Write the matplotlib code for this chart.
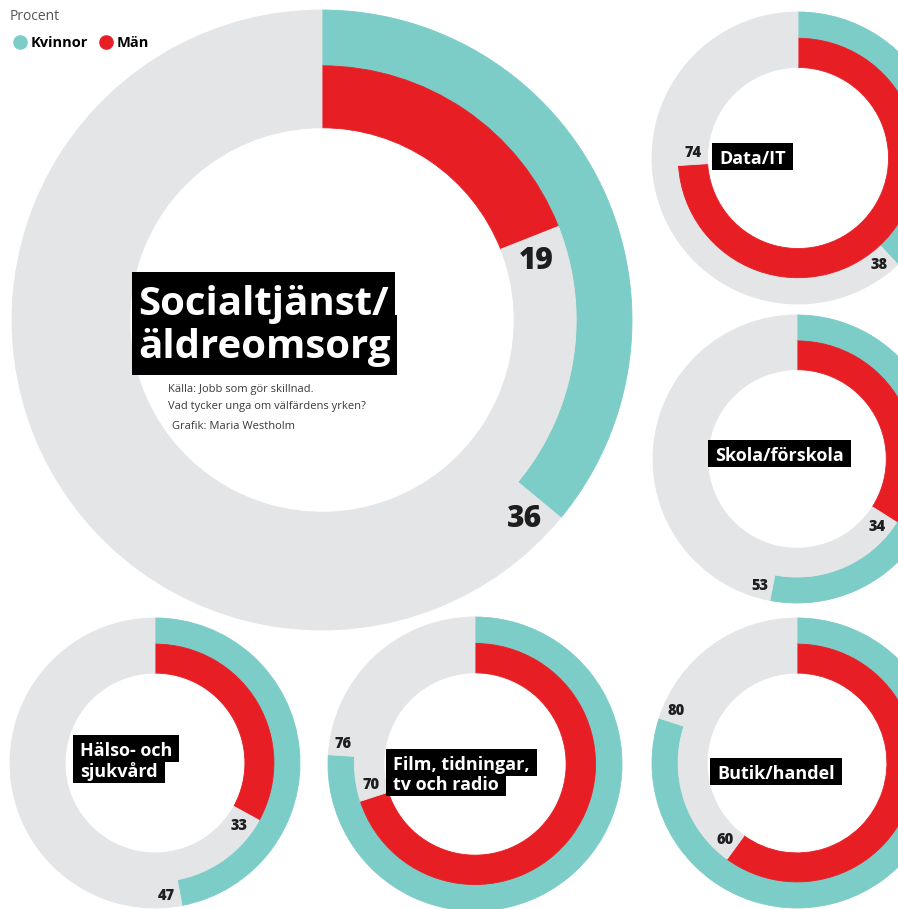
import matplotlib
matplotlib.use("Agg")
import matplotlib.pyplot as plt
from matplotlib.patches import Rectangle
from matplotlib.lines import Line2D
import numpy as np

# ---------------- data ----------------
categories = ["Socialtjänst/\näldreomsorg", "Data/IT", "Skola/förskola",
              "Hälso- och\nsjukvård", "Film, tidningar,\ntv och radio", "Butik/handel"]
kvinnor = [36, 38, 53, 47, 76, 80]
man = [19, 74, 34, 33, 70, 60]
series_names = ["Kvinnor", "Män"]
unit_label = "Procent"
source_lines = ["Källa: Jobb som gör skillnad.",
                "Vad tycker unga om välfärdens yrken?",
                "Grafik: Maria Westholm"]

# ---------------- style / layout ----------------
W, H = 898, 909
DPI = 100
TEAL = "#7CCCC7"
RED = "#E81E25"
GRAY = "#E4E5E7"
INK = "#1E1E1E"
FONT = ["Open Sans", "DejaVu Sans"]
plt.rcParams["font.family"] = FONT

# donut centres (pixel, y downward) and outer radii
centers = [(322, 320), (798, 158), (797, 459), (155, 763), (475, 764), (797, 763)]
radii = [310, 146, 144, 145, 147, 145]
MID, INNER = 0.82, 0.62
# category label: left x, first baseline, font size, line spacing, pads
label_pos = [(138, 315), (719, 164), (715, 461), (80, 756), (393, 770), (717, 779)]
label_size = [29, 13, 13, 13, 13, 13]
line_gap = [43, 21, 21, 21, 20, 21]
label_pads = [(6, 13, 8)] + [(7, 7, 2)] * 5
num_size = [21.5, 10.5, 10.5, 10.5, 10.5, 10.5]
HEAVY = 800


def Y(py):
    return H - py


fig = plt.figure(figsize=(W / DPI, H / DPI), dpi=DPI)
ax = fig.add_axes([0, 0, 1, 1])

boxed = []
for i, cat in enumerate(categories):
    cx, cy = centers[i]
    R = radii[i]
    rm, ri = R * MID, R * INNER
    outer, _ = ax.pie([kvinnor[i], 100 - kvinnor[i]], radius=R, center=(cx, Y(cy)),
                      startangle=90, counterclock=False, colors=[TEAL, GRAY],
                      wedgeprops=dict(width=R - rm, linewidth=0))
    inner, _ = ax.pie([man[i], 100 - man[i]], radius=rm, center=(cx, Y(cy)),
                      startangle=90, counterclock=False, colors=[RED, GRAY],
                      wedgeprops=dict(width=rm - ri, linewidth=0))
    for w in list(outer) + list(inner):
        w.set_edgecolor(w.get_facecolor())
        w.set_linewidth(0.6)
        w.set_zorder(1 + i * 0.01)

    # value labels just past the end of each arc
    fs = num_size[i]
    fs_px = fs / 0.72
    for val, rl in [(kvinnor[i], (R + rm) / 2), (man[i], (rm + ri) / 2)]:
        gap = 0.57 * fs_px + 5
        th = np.deg2rad(val / 100 * 360) + gap / rl
        x = cx + rl * np.sin(th)
        y = Y(cy) + rl * np.cos(th) - 0.36 * fs_px
        ax.text(x, y, str(val), ha="center", va="baseline", fontsize=fs,
                fontweight=HEAVY, color=INK, zorder=4)

    # category label, white on black
    lx, ly = label_pos[i]
    for j, line in enumerate(cat.split("\n")):
        t = ax.text(lx, Y(ly + j * line_gap[i]), line, ha="left", va="baseline",
                    fontsize=label_size[i], fontweight="bold", color="white", zorder=5)
        boxed.append((t, label_pads[i]))

# unit + legend
ax.text(10, Y(20), unit_label, fontsize=10, color="#555555", va="baseline")
handles = [Line2D([], [], marker="o", ls="", color=TEAL, markersize=9.5, label=series_names[0]),
           Line2D([], [], marker="o", ls="", color=RED, markersize=9.5, label=series_names[1])]
ax.legend(handles=handles, loc="upper left", bbox_to_anchor=(13 / W, 1 - 36 / H),
          ncol=2, frameon=False, handlelength=1.0, handletextpad=0.2,
          columnspacing=0.75, borderpad=0, borderaxespad=0,
          prop=dict(family=FONT, weight="bold", size=10.5))

# source text
src_pos = [(168, 392), (168, 409), (172, 429)]
for (sx, sy), s in zip(src_pos, source_lines):
    ax.text(sx, Y(sy), s, fontsize=8, color="#3A3A3A", va="baseline", zorder=4)

ax.set_xlim(0, W)
ax.set_ylim(0, H)
ax.set_aspect("equal")
ax.axis("off")

# black boxes behind labels
fig.canvas.draw()
rend = fig.canvas.get_renderer()
inv = ax.transData.inverted()
for t, (px, pt, pb) in boxed:
    bb = t.get_window_extent(renderer=rend)
    (x0, y0), (x1, y1) = inv.transform([[bb.x0 - px, bb.y0 - pb], [bb.x1 + px, bb.y1 + pt]])
    ax.add_patch(Rectangle((x0, y0), x1 - x0, y1 - y0, facecolor="black",
                           edgecolor="none", zorder=4.5))

fig.savefig("out.png", dpi=DPI, facecolor="white")
